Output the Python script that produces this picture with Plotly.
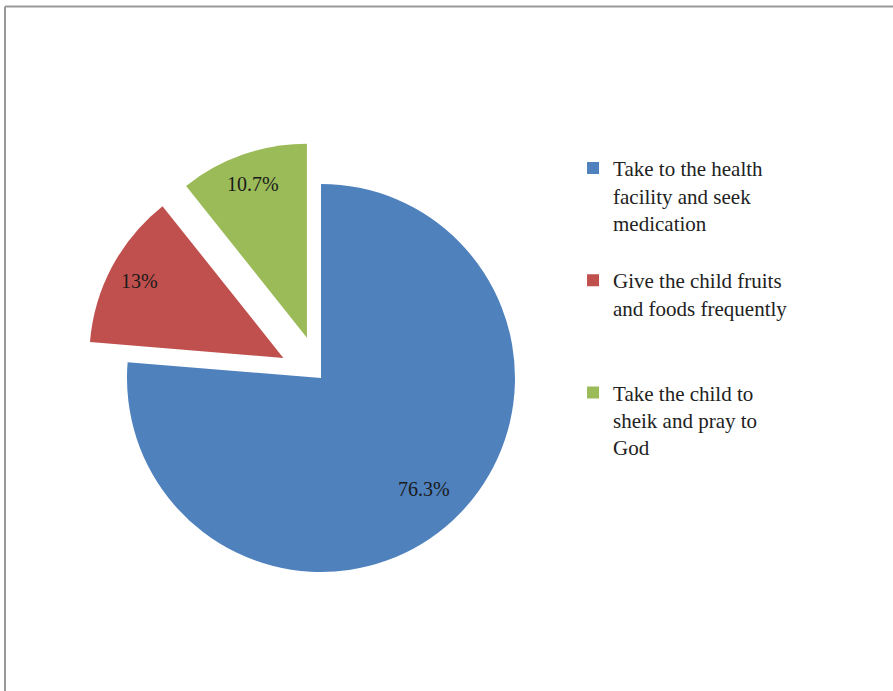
import math
import plotly.graph_objects as go

labels = [
    "Take to the health<br>facility and seek<br>medication<br> ",
    "Give the child fruits<br>and foods frequently<br> <br> ",
    "Take the child to<br>sheik and pray to<br>God",
]
values = [76.3, 13, 10.7]
value_text = ["76.3%", "13%", "10.7%"]
colors = ["#4F81BD", "#C0504D", "#9BBB59"]
pulls = [0, 0.22, 0.22]

W, H = 893, 691
dom_x = [0.0944, 0.6245]
dom_y = [0.1104, 0.7955]
label_frac = [0.78, 0.84, 0.84]

fig = go.Figure()
fig.add_trace(go.Pie(
    labels=labels,
    values=values,
    sort=False,
    direction="clockwise",
    rotation=0,
    pull=pulls,
    marker=dict(colors=colors, line=dict(width=0)),
    textinfo="none",
    domain=dict(x=dom_x, y=dom_y),
    hoverinfo="label+percent",
))

# label positions derived from the slice geometry (same formulas plotly uses)
cx = W * (dom_x[0] + dom_x[1]) / 2
cy = H * (1 - (dom_y[0] + dom_y[1]) / 2)
r = min(W * (dom_x[1] - dom_x[0]), H * (dom_y[1] - dom_y[0])) / (2 + 2 * max(pulls))
total = sum(values)
cum = 0
annotations = []
for v, t, p, f in zip(values, value_text, pulls, label_frac):
    mid = (cum + v / 2) / total * 2 * math.pi
    cum += v
    d = (p + f) * r
    px = cx + d * math.sin(mid)
    py = cy - d * math.cos(mid)
    annotations.append(dict(
        x=px / W, y=1 - py / H, xref="paper", yref="paper",
        text=t, showarrow=False, xanchor="center", yanchor="middle",
        font=dict(family="Liberation Serif", size=20, color="#1a1a1a"),
    ))

fig.update_layout(
    width=W, height=H,
    margin=dict(l=0, r=0, t=0, b=0),
    paper_bgcolor="white",
    plot_bgcolor="white",
    showlegend=True,
    legend=dict(
        x=0.6417, y=0.786, xanchor="left", yanchor="top",
        font=dict(family="Liberation Serif", size=21, color="#222222"),
        valign="top",
        bgcolor="rgba(0,0,0,0)",
    ),
    annotations=annotations,
    shapes=[
        dict(type="line", xref="paper", yref="paper", x0=0.0056, x1=1, y0=0.9906, y1=0.9906,
             line=dict(color="#999999", width=2)),
        dict(type="line", xref="paper", yref="paper", x0=0.0056, x1=0.0056, y0=0, y1=0.9906,
             line=dict(color="#999999", width=2)),
    ],
)

fig.write_html("out.html")
